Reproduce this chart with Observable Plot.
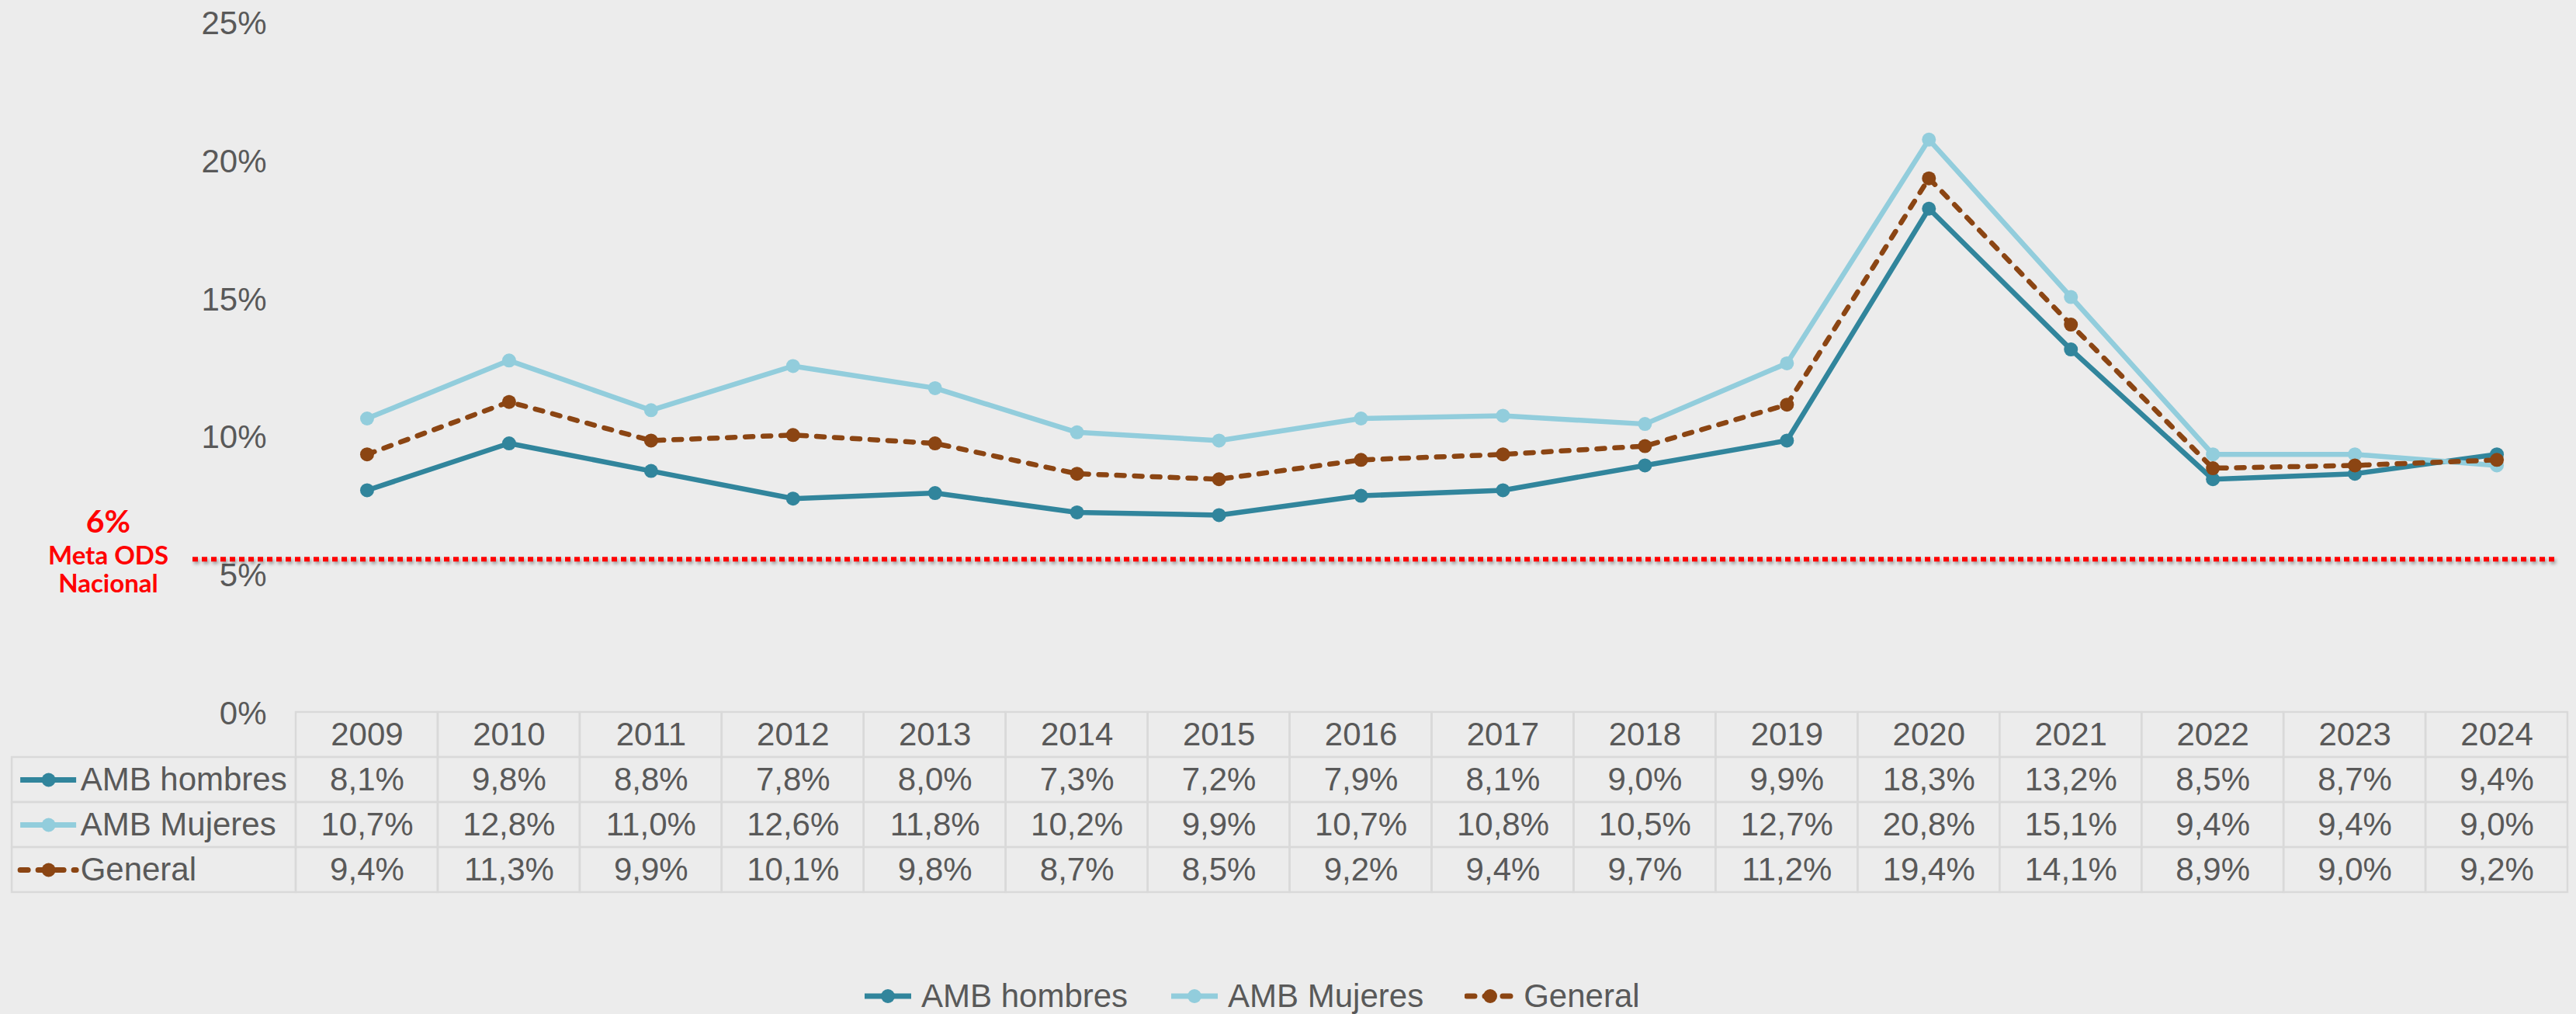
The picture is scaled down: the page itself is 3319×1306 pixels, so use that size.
<!DOCTYPE html>
<html>
<head>
<meta charset="utf-8">
<script src="https://cdn.jsdelivr.net/npm/d3@7"></script>
<script src="https://cdn.jsdelivr.net/npm/@observablehq/plot@0.6"></script>
<style>
  html, body { margin: 0; padding: 0; background: #ececec; width: 3319px; height: 1306px; overflow: hidden; }
  #root { position: relative; width: 3319px; height: 1306px; font-family: "Liberation Sans", Arial, sans-serif; color: #595959; }
  #main { position: absolute; left: 0; top: 0; }
  #table { position: absolute; left: 0; top: 915px; }
  #legend { position: absolute; left: 1111px; top: 1255px; height: 56px; display: flex; align-items: center; font-size: 42px; color: #595959; white-space: nowrap; }
  #legend .item { display: flex; align-items: center; margin-right: 53px; }
  #legend svg { margin-right: 10px; }
</style>
</head>
<body>
<div id="root">
  <div id="main"></div>
  <div id="table"></div>
  <div id="legend"></div>
</div>
<script>
// ---------- data ----------
const years = [2009, 2010, 2011, 2012, 2013, 2014, 2015, 2016, 2017, 2018, 2019, 2020, 2021, 2022, 2023, 2024];
const seriesNames = ["AMB hombres", "AMB Mujeres", "General"];
const hombres = [8.1, 9.8, 8.8, 7.8, 8.0, 7.3, 7.2, 7.9, 8.1, 9.0, 9.9, 18.3, 13.2, 8.5, 8.7, 9.4];
const mujeres = [10.7, 12.8, 11.0, 12.6, 11.8, 10.2, 9.9, 10.7, 10.8, 10.5, 12.7, 20.8, 15.1, 9.4, 9.4, 9.0];
const general = [9.4, 11.3, 9.9, 10.1, 9.8, 8.7, 8.5, 9.2, 9.4, 9.7, 11.2, 19.4, 14.1, 8.9, 9.0, 9.2];
const yTicks = [0, 5, 10, 15, 20, 25];
const metaLabel = "6%";
const metaLines = ["Meta ODS", "Nacional"];
const metaLineAt = 5.6; // where the dotted target line is drawn in the picture

// ---------- styles ----------
const colors = {"AMB hombres": "#31859C", "AMB Mujeres": "#92CDDC", "General": "#8B4513"};
const dashed = {"General": true};
const textColor = "#595959";
const gridColor = "#d9d9d9";
const font = "Liberation Sans, Arial, sans-serif";
const W = 3319;
const marginLeft = 381, marginRight = 11;
const xDomain = [years[0] - 0.5, years[years.length - 1] + 0.5];
const labelLeft = xDomain[0] - 2;

const valuesBySeries = {"AMB hombres": hombres, "AMB Mujeres": mujeres, "General": general};
const points = seriesNames.flatMap(s => years.map((yr, i) => ({series: s, year: yr, value: valuesBySeries[s][i]})));
const fmt = v => v.toFixed(1).replace(".", ",") + "%";

// ---------- main chart ----------
const seriesMarks = seriesNames.flatMap(s => {
  const d = points.filter(p => p.series === s);
  return [
    Plot.line(d, {x: "year", y: "value", stroke: colors[s], strokeWidth: 6.5,
      strokeDasharray: dashed[s] ? "10,13" : null, strokeLinecap: dashed[s] ? "round" : "butt", strokeLinejoin: "round"}),
    Plot.dot(d, {x: "year", y: "value", r: 9, fill: colors[s], stroke: "none"})
  ];
});

const redText = {x: xDomain[0], y: metaLineAt, text: d => d, dx: -242, fontWeight: "bold", fill: "#ff0000", fontFamily: "Lato, sans-serif"};
const main = Plot.plot({
  width: W, height: 945,
  marginTop: 30, marginBottom: 26, marginLeft, marginRight,
  style: {background: "transparent", overflow: "visible", fontFamily: font},
  x: {domain: xDomain, axis: null},
  y: {domain: [0, 25], axis: null},
  marks: [
    Plot.axisY(yTicks, {tickSize: 0, tickPadding: 38, tickFormat: d => d + "%", fontSize: 42, fill: textColor, label: null}),
    Plot.ruleY([metaLineAt], {stroke: "#ff0000", strokeWidth: 6, strokeDasharray: "7,5", insetLeft: -133, insetRight: 16}),
    Plot.text([metaLabel], {...redText, dy: -47, fontSize: 41}),
    Plot.text([metaLines[0]], {...redText, dy: -4, fontSize: 33}),
    Plot.text([metaLines[1]], {...redText, dy: 32, fontSize: 33}),
    ...seriesMarks
  ]
});
d3.select(main).selectAll('g[aria-label="rule"] line').style("filter", "drop-shadow(2px 3px 2px rgba(0,0,0,0.35))");
document.getElementById("main").appendChild(main);

// ---------- data table ----------
const headerKey = "\u00a0";
const rowKeys = [headerKey, ...seriesNames];
const headerCells = years.map(yr => ({row: headerKey, year: yr, label: String(yr)}));
const valueCells = points.map(p => ({row: p.series, year: p.year, label: fmt(p.value)}));
const cells = [...headerCells, ...valueCells];

const keyMarks = seriesNames.flatMap(s => [
  Plot.ruleY([s], {y: d => d, x1: labelLeft, x2: labelLeft, insetLeft: 11, insetRight: -83, stroke: colors[s], strokeWidth: 7,
    strokeDasharray: dashed[s] ? "10,13" : null, strokeLinecap: dashed[s] ? "round" : "butt"}),
  Plot.dot([s], {x: labelLeft, y: d => d, dx: 47, r: 9, fill: colors[s]})
]);

const table = Plot.plot({
  width: W, height: 236,
  marginTop: 2, marginBottom: 2, marginLeft, marginRight,
  style: {background: "transparent", overflow: "visible", fontFamily: font},
  x: {domain: xDomain, axis: null},
  y: {type: "band", domain: rowKeys, padding: 0, axis: null},
  marks: [
    Plot.barX(cells, {x1: d => d.year - 0.5, x2: d => d.year + 0.5, y: "row", fill: "none", stroke: gridColor, strokeWidth: 2.5}),
    Plot.barX(seriesNames, {x1: labelLeft, x2: xDomain[0], y: d => d, fill: "none", stroke: gridColor, strokeWidth: 2.5}),
    Plot.text(cells, {x: "year", y: "row", text: "label", fontSize: 42, fill: textColor}),
    ...keyMarks,
    Plot.text(seriesNames, {x: labelLeft, y: d => d, text: d => d, dx: 88, textAnchor: "start", fontSize: 42, fill: textColor})
  ]
});
document.getElementById("table").appendChild(table);

// ---------- legend ----------
const legend = d3.select("#legend");
seriesNames.forEach(s => {
  const item = legend.append("div").attr("class", "item");
  const svg = item.append("svg").attr("width", 66).attr("height", 24);
  svg.append("line").attr("x1", 3).attr("x2", 63).attr("y1", 12).attr("y2", 12)
    .attr("stroke", colors[s]).attr("stroke-width", 7)
    .attr("stroke-dasharray", dashed[s] ? "10,13" : null)
    .attr("stroke-linecap", dashed[s] ? "round" : "butt");
  svg.append("circle").attr("cx", 33).attr("cy", 12).attr("r", 9).attr("fill", colors[s]);
  item.append("span").text(s);
});
</script>
</body>
</html>
